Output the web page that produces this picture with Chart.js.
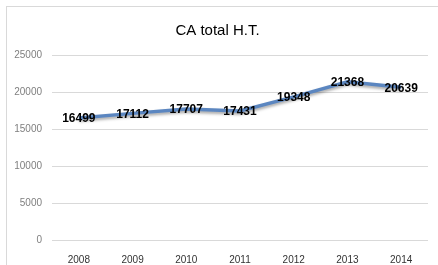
<!DOCTYPE html>
<html>
<head>
<meta charset="utf-8">
<script src="https://cdn.jsdelivr.net/npm/chart.js@4"></script>
<style>
  body { margin: 0; background: #fff; }
  #frame { position: absolute; left: 6px; top: 6px; width: 440px; height: 270px; border: 1px solid #d9d9d9; }
  #caChart { position: absolute; left: 0; top: 0; }
</style>
</head>
<body>
<div id="frame"><canvas id="caChart" width="431" height="258"></canvas></div>
<script>
const years = ['2008', '2009', '2010', '2011', '2012', '2013', '2014'];
const caTotal = [16499, 17112, 17707, 17431, 19348, 21368, 20639];
const yTicks = [0, 5000, 10000, 15000, 20000, 25000];

const ctx = document.getElementById('caChart');

// shadow under the line, like the office chart
const lineShadow = {
    id: 'lineShadow',
    beforeDatasetDraw(chart) {
        const c = chart.ctx;
        c.save();
        c.shadowColor = 'rgba(0,0,0,0.35)';
        c.shadowBlur = 3;
        c.shadowOffsetY = 2;
    },
    afterDatasetDraw(chart) {
        chart.ctx.restore();
    }
};

// values written on the points
const valueLabels = {
    id: 'valueLabels',
    afterDatasetsDraw(chart) {
        const c = chart.ctx;
        const meta = chart.getDatasetMeta(0);
        c.save();
        c.font = 'bold 12px "Liberation Sans", Arial, sans-serif';
        c.fillStyle = '#000';
        c.textAlign = 'center';
        c.textBaseline = 'middle';
        meta.data.forEach((pt, i) => {
            c.fillText(chart.data.datasets[0].data[i], pt.x, pt.y + 1);
        });
        c.restore();
    }
};

const caChart = new Chart(ctx, {
    type: 'line',
    data: {
        labels: years,
        datasets: [{
            data: caTotal,
            borderColor: '#5b86c0',
            borderWidth: 3.5,
            pointRadius: 0,
            tension: 0
        }]
    },
    options: {
        responsive: false,
        animation: false,
        layout: { padding: { left: 0, right: 10, top: 0, bottom: 0 } },
        plugins: {
            legend: { display: false },
            tooltip: { enabled: false },
            title: {
                display: true,
                text: 'CA total H.T.',
                color: '#000',
                font: { family: '"Liberation Sans", Arial, sans-serif', size: 15, weight: 'normal' },
                padding: { top: 15, bottom: 15 }
            }
        },
        scales: {
            x: {
                offset: true,
                grid: { display: false },
                border: { display: false },
                ticks: {
                    color: '#333',
                    font: { family: '"Liberation Sans", Arial, sans-serif', size: 10 },
                    padding: 6
                },
                afterFit(scale) { scale.height = 25; }
            },
            y: {
                min: 0,
                max: 25000,
                afterBuildTicks(scale) { scale.ticks = yTicks.map(v => ({ value: v })); },
                grid: { color: '#d9d9d9', lineWidth: 1, drawTicks: false },
                border: { display: false },
                ticks: {
                    color: '#7f7f7f',
                    font: { family: '"Liberation Sans", Arial, sans-serif', size: 10 },
                    padding: 10,
                    callback: v => String(v)
                },
                afterFit(scale) { scale.width = 45; }
            }
        }
    },
    plugins: [lineShadow, valueLabels]
});
</script>
</body>
</html>
